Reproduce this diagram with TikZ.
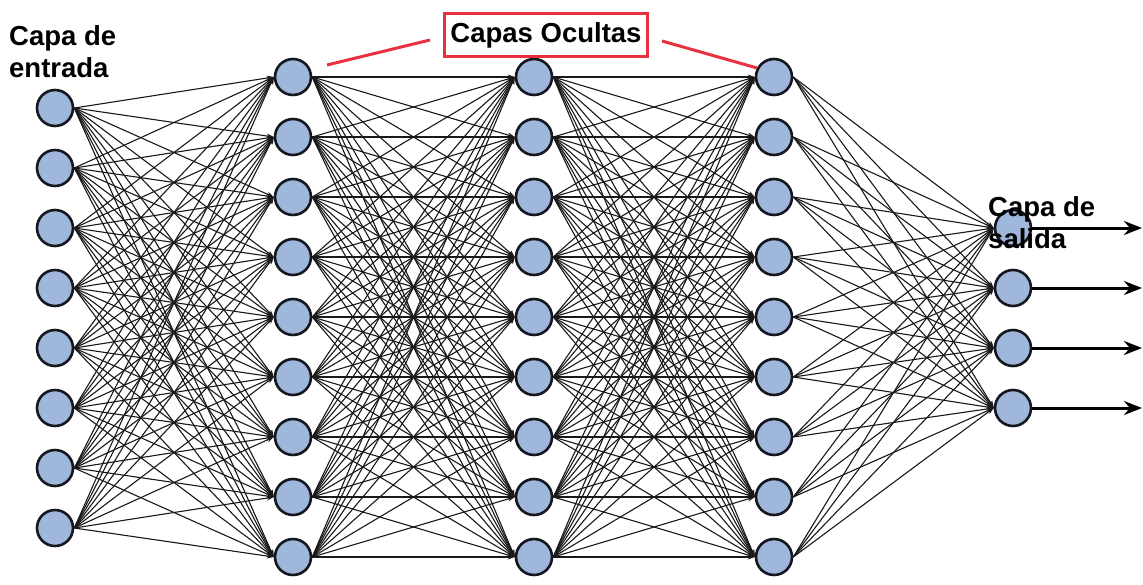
\documentclass[tikz,border=0pt]{standalone}
\usepackage{fontspec}
\setmainfont{Liberation Sans}
\usetikzlibrary{arrows.meta,backgrounds}
\definecolor{nodefill}{HTML}{A0B7DC}
\definecolor{nodeline}{HTML}{15171F}
\definecolor{hlred}{HTML}{E8323F}
\tikzset{
  neuron/.style={circle,draw=nodeline,line width=2.6pt,fill=nodefill,minimum size=36pt,inner sep=0pt},
  synapse/.style={draw=black!90,line width=1.1pt,-{Stealth[length=7pt,width=5pt]}},
  outarrow/.style={draw=black,line width=3pt,-{Stealth[length=18pt,width=14pt]}},
  lbl/.style={font=\fontsize{27.5}{32}\selectfont\bfseries,align=left,inner sep=0pt},
  redline/.style={draw=hlred,line width=3pt},
  redbox/.style={draw=hlred,line width=3pt,lbl,inner xsep=6pt,inner ysep=9pt,fill=white}
}
\begin{document}
\begin{tikzpicture}[x=1pt,y=-1pt]
\useasboundingbox (0,0) rectangle (1143,584);
% input layer
\foreach \i in {1,...,8}{
  \node[neuron] (i\i) at (55,{108+(\i-1)*60}) {};
}
% hidden layers
\foreach \l/\x in {a/293,b/534,c/774}{
  \foreach \j in {1,...,9}{
    \node[neuron] (\l\j) at (\x,{77+(\j-1)*60}) {};
  }
}
% output layer
\foreach \k in {1,...,4}{
  \node[neuron] (o\k) at (1013,{228+(\k-1)*60}) {};
}
\begin{scope}[on background layer]
\foreach \i in {1,...,8}{\foreach \j in {1,...,9}{\draw[synapse] (i\i.east) -- (a\j.west);}}
\foreach \i in {1,...,9}{\foreach \j in {1,...,9}{\draw[synapse] (a\i.east) -- (b\j.west);}}
\foreach \i in {1,...,9}{\foreach \j in {1,...,9}{\draw[synapse] (b\i.east) -- (c\j.west);}}
\foreach \i in {1,...,9}{\foreach \j in {1,...,4}{\draw[synapse] (c\i.east) -- (o\j.west);}}
\end{scope}
% output arrows
\foreach \k in {1,...,4}{
  \coordinate (e\k) at (1142,{228+(\k-1)*60});
  \draw[outarrow] (o\k.east) -- (e\k);
}
% labels
\node[lbl,anchor=base west] (lin) at (9,77) {Capa de\\entrada};
\node[lbl,anchor=base west] (lout) at (988,248) {Capa de\\salida};
\node[redbox] (hid) at (546,35) {Capas Ocultas};
\coordinate (r1) at (327,65);
\coordinate (r2) at (757,68);
\coordinate (r3) at (430,40);
\coordinate (r4) at (662,41);
\draw[redline] (r1) -- (r3);
\draw[redline] (r4) -- (r2);
\end{tikzpicture}
\end{document}
